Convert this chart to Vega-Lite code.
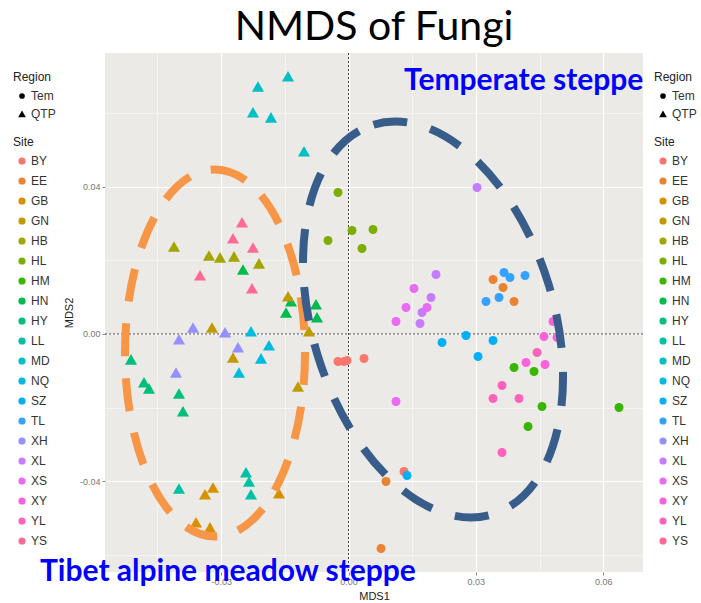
{
  "$schema": "https://vega.github.io/schema/vega-lite/v6.json",
  "width": 538,
  "height": 519,
  "autosize": {"type": "none"},
  "padding": {"left": 105, "top": 53, "right": 58, "bottom": 31},
  "background": "white",
  "title": {"text": "NMDS of Fungi", "font": "Lato", "fontSize": 41, "fontWeight": "normal", "color": "#000000", "anchor": "middle", "frame": "group", "offset": 4},
  "config": {
    "view": {"fill": "#EBEAE7", "stroke": null},
    "axis": {
      "domain": false,
      "labelFont": "Liberation Sans", "labelFontSize": 9, "labelColor": "#777777",
      "titleFont": "Liberation Sans", "titleFontSize": 11, "titleFontWeight": "normal", "titleColor": "#222222",
      "tickColor": "#888888", "tickSize": 3, "gridColor": "#FFFFFF"
    },
    "legend": {
      "padding": 0,
      "titleFont": "Liberation Sans", "titleFontSize": 12, "titleFontWeight": "normal", "titleColor": "#222222",
      "labelFont": "Liberation Sans", "labelFontSize": 12, "labelColor": "#333333",
      "symbolOpacity": 1, "symbolStrokeWidth": 0
    }
  },
  "datasets": {
    "pts": [
      {"Site": "MD", "Region": "QTP", "x": -0.01425, "y": 0.06988},
      {"Site": "MD", "Region": "QTP", "x": -0.02132, "y": 0.06716},
      {"Site": "MD", "Region": "QTP", "x": -0.02250, "y": 0.06011},
      {"Site": "MD", "Region": "QTP", "x": -0.01826, "y": 0.05875},
      {"Site": "MD", "Region": "QTP", "x": -0.01048, "y": 0.04953},
      {"Site": "YS", "Region": "QTP", "x": -0.02509, "y": 0.03026},
      {"Site": "YS", "Region": "QTP", "x": -0.02721, "y": 0.02592},
      {"Site": "YS", "Region": "QTP", "x": -0.02250, "y": 0.02347},
      {"Site": "YS", "Region": "QTP", "x": -0.03498, "y": 0.01588},
      {"Site": "YS", "Region": "QTP", "x": -0.02273, "y": 0.01235},
      {"Site": "HB", "Region": "QTP", "x": -0.04111, "y": 0.02374},
      {"Site": "HB", "Region": "QTP", "x": -0.03286, "y": 0.02130},
      {"Site": "HB", "Region": "QTP", "x": -0.03027, "y": 0.02076},
      {"Site": "HB", "Region": "QTP", "x": -0.02697, "y": 0.02103},
      {"Site": "HB", "Region": "QTP", "x": -0.02108, "y": 0.01913},
      {"Site": "HN", "Region": "QTP", "x": -0.02485, "y": 0.01750},
      {"Site": "HN", "Region": "QTP", "x": -0.01355, "y": 0.00882},
      {"Site": "HN", "Region": "QTP", "x": -0.01472, "y": 0.00583},
      {"Site": "HN", "Region": "QTP", "x": -0.00766, "y": 0.00801},
      {"Site": "HN", "Region": "QTP", "x": -0.00742, "y": 0.00448},
      {"Site": "GN", "Region": "QTP", "x": -0.01425, "y": 0.01018},
      {"Site": "GN", "Region": "QTP", "x": -0.00931, "y": 0.00068},
      {"Site": "GN", "Region": "QTP", "x": -0.03216, "y": 0.00176},
      {"Site": "GN", "Region": "QTP", "x": -0.02721, "y": -0.00638},
      {"Site": "GN", "Region": "QTP", "x": -0.01190, "y": -0.01425},
      {"Site": "XH", "Region": "QTP", "x": -0.03663, "y": 0.00176},
      {"Site": "XH", "Region": "QTP", "x": -0.03993, "y": -0.00149},
      {"Site": "XH", "Region": "QTP", "x": -0.02909, "y": 0.00041},
      {"Site": "XH", "Region": "QTP", "x": -0.02603, "y": -0.00366},
      {"Site": "XH", "Region": "QTP", "x": -0.04064, "y": -0.01045},
      {"Site": "NQ", "Region": "QTP", "x": -0.02297, "y": 0.00068},
      {"Site": "NQ", "Region": "QTP", "x": -0.01873, "y": -0.00312},
      {"Site": "NQ", "Region": "QTP", "x": -0.02061, "y": -0.00665},
      {"Site": "NQ", "Region": "QTP", "x": -0.02580, "y": -0.01045},
      {"Site": "HY", "Region": "QTP", "x": -0.05124, "y": -0.00692},
      {"Site": "HY", "Region": "QTP", "x": -0.04817, "y": -0.01316},
      {"Site": "HY", "Region": "QTP", "x": -0.04700, "y": -0.01479},
      {"Site": "HY", "Region": "QTP", "x": -0.03993, "y": -0.01615},
      {"Site": "HY", "Region": "QTP", "x": -0.03899, "y": -0.02103},
      {"Site": "LL", "Region": "QTP", "x": -0.02415, "y": -0.03758},
      {"Site": "LL", "Region": "QTP", "x": -0.02344, "y": -0.04003},
      {"Site": "LL", "Region": "QTP", "x": -0.02297, "y": -0.04355},
      {"Site": "LL", "Region": "QTP", "x": -0.03993, "y": -0.04193},
      {"Site": "GB", "Region": "QTP", "x": -0.03192, "y": -0.04166},
      {"Site": "GB", "Region": "QTP", "x": -0.03380, "y": -0.04355},
      {"Site": "GB", "Region": "QTP", "x": -0.03592, "y": -0.05115},
      {"Site": "GB", "Region": "QTP", "x": -0.03263, "y": -0.05251},
      {"Site": "GB", "Region": "QTP", "x": -0.01637, "y": -0.04328},
      {"Site": "HL", "Region": "Tem", "x": -0.00247, "y": 0.03840},
      {"Site": "HL", "Region": "Tem", "x": -0.00483, "y": 0.02537},
      {"Site": "HL", "Region": "Tem", "x": 0.00082, "y": 0.02809},
      {"Site": "HL", "Region": "Tem", "x": 0.00577, "y": 0.02836},
      {"Site": "HL", "Region": "Tem", "x": 0.00318, "y": 0.02320},
      {"Site": "BY", "Region": "Tem", "x": -0.00247, "y": -0.00746},
      {"Site": "BY", "Region": "Tem", "x": -0.00106, "y": -0.00746},
      {"Site": "BY", "Region": "Tem", "x": -0.00035, "y": -0.00719},
      {"Site": "BY", "Region": "Tem", "x": 0.00365, "y": -0.00665},
      {"Site": "BY", "Region": "Tem", "x": 0.01307, "y": -0.03731},
      {"Site": "EE", "Region": "Tem", "x": 0.03404, "y": 0.01479},
      {"Site": "EE", "Region": "Tem", "x": 0.03640, "y": 0.01262},
      {"Site": "EE", "Region": "Tem", "x": 0.03899, "y": 0.00882},
      {"Site": "EE", "Region": "Tem", "x": 0.00883, "y": -0.04003},
      {"Site": "EE", "Region": "Tem", "x": 0.00766, "y": -0.05821},
      {"Site": "HM", "Region": "Tem", "x": 0.03899, "y": -0.00909},
      {"Site": "HM", "Region": "Tem", "x": 0.04370, "y": -0.01018},
      {"Site": "HM", "Region": "Tem", "x": 0.04558, "y": -0.01967},
      {"Site": "HM", "Region": "Tem", "x": 0.06372, "y": -0.01995},
      {"Site": "HM", "Region": "Tem", "x": 0.04229, "y": -0.02510},
      {"Site": "TL", "Region": "Tem", "x": 0.03663, "y": 0.01669},
      {"Site": "TL", "Region": "Tem", "x": 0.03804, "y": 0.01533},
      {"Site": "TL", "Region": "Tem", "x": 0.04158, "y": 0.01588},
      {"Site": "TL", "Region": "Tem", "x": 0.03239, "y": 0.00882},
      {"Site": "TL", "Region": "Tem", "x": 0.03545, "y": 0.00990},
      {"Site": "SZ", "Region": "Tem", "x": 0.02203, "y": -0.00231},
      {"Site": "SZ", "Region": "Tem", "x": 0.02768, "y": -0.00041},
      {"Site": "SZ", "Region": "Tem", "x": 0.03404, "y": -0.00176},
      {"Site": "SZ", "Region": "Tem", "x": 0.03051, "y": -0.00611},
      {"Site": "SZ", "Region": "Tem", "x": 0.01378, "y": -0.03840},
      {"Site": "XL", "Region": "Tem", "x": 0.03027, "y": 0.03976},
      {"Site": "XL", "Region": "Tem", "x": 0.02061, "y": 0.01615},
      {"Site": "XL", "Region": "Tem", "x": 0.01943, "y": 0.00990},
      {"Site": "XL", "Region": "Tem", "x": 0.01731, "y": 0.00583},
      {"Site": "XL", "Region": "Tem", "x": 0.01684, "y": 0.00285},
      {"Site": "XS", "Region": "Tem", "x": 0.01543, "y": 0.01235},
      {"Site": "XS", "Region": "Tem", "x": 0.01355, "y": 0.00719},
      {"Site": "XS", "Region": "Tem", "x": 0.01849, "y": 0.00719},
      {"Site": "XS", "Region": "Tem", "x": 0.01119, "y": 0.00339},
      {"Site": "XS", "Region": "Tem", "x": 0.01119, "y": -0.01832},
      {"Site": "XY", "Region": "Tem", "x": 0.04817, "y": 0.00339},
      {"Site": "XY", "Region": "Tem", "x": 0.04605, "y": -0.00068},
      {"Site": "XY", "Region": "Tem", "x": 0.04912, "y": -0.00095},
      {"Site": "XY", "Region": "Tem", "x": 0.04181, "y": -0.00773},
      {"Site": "XY", "Region": "Tem", "x": 0.04629, "y": -0.00828},
      {"Site": "YL", "Region": "Tem", "x": 0.04441, "y": -0.00502},
      {"Site": "YL", "Region": "Tem", "x": 0.03616, "y": -0.01398},
      {"Site": "YL", "Region": "Tem", "x": 0.03404, "y": -0.01750},
      {"Site": "YL", "Region": "Tem", "x": 0.04016, "y": -0.01750},
      {"Site": "YL", "Region": "Tem", "x": 0.03616, "y": -0.03216}
    ],
    "zero": [{"x": 0, "y": 0}],
    "ellQTP": [{"x": -0.03145, "y": -0.00516}],
    "ellTem": [{"x": 0.01991, "y": 0.00393}],
    "notes": [
      {"x": 0.01307, "y": 0.06608, "label": "Temperate steppe"},
      {"x": -0.07267, "y": -0.06716, "label": "Tibet alpine meadow steppe"}
    ]
  },
  "layer": [
    {
      "data": {"name": "zero"},
      "mark": {"type": "rule", "color": "#333333", "strokeWidth": 0.9, "strokeDash": [2, 2]},
      "encoding": {"x": {"field": "x", "type": "quantitative", "title": "MDS1"}}
    },
    {
      "data": {"name": "zero"},
      "mark": {"type": "rule", "color": "#333333", "strokeWidth": 0.9, "strokeDash": [2, 2]},
      "encoding": {"y": {"field": "y", "type": "quantitative", "title": "MDS2"}}
    },
    {
      "data": {"name": "pts"},
      "mark": {"type": "point", "filled": true, "opacity": 1, "strokeWidth": 0, "size": 80},
      "encoding": {
        "x": {"field": "x", "type": "quantitative", "title": "MDS1",
          "scale": {"domain": [-0.05736, 0.06937], "nice": false, "zero": false},
          "axis": {"values": [-0.045, -0.03, -0.015, 0, 0.015, 0.03, 0.045, 0.06], "grid": true,
            "labelExpr": "abs(round(datum.value*1000)) % 30 == 0 ? (datum.value < 0 ? '-' : '') + format(abs(datum.value), '.2f') : ''",
            "gridWidth": {"condition": {"test": "abs(round(datum.value*1000)) % 30 == 0", "value": 1.1}, "value": 0.5},
            "tickOpacity": {"condition": {"test": "abs(round(datum.value*1000)) % 30 == 0", "value": 1}, "value": 0},
            "labelPadding": 2, "titlePadding": 4}},
        "y": {"field": "y", "type": "quantitative", "title": "MDS2",
          "scale": {"domain": [-0.06459, 0.07625], "nice": false, "zero": false},
          "axis": {"values": [-0.06, -0.04, -0.02, 0, 0.02, 0.04, 0.06], "grid": true,
            "labelExpr": "abs(round(datum.value*1000)) % 40 == 0 ? (datum.value < 0 ? '-' : '') + format(abs(datum.value), '.2f') : ''",
            "gridWidth": {"condition": {"test": "abs(round(datum.value*1000)) % 40 == 0", "value": 1.1}, "value": 0.5},
            "tickOpacity": {"condition": {"test": "abs(round(datum.value*1000)) % 40 == 0", "value": 1}, "value": 0},
            "labelPadding": 2, "titlePadding": 5}},
        "color": {"field": "Site", "type": "nominal",
          "scale": {"domain": ["BY","EE","GB","GN","HB","HL","HM","HN","HY","LL","MD","NQ","SZ","TL","XH","XL","XS","XY","YL","YS"],
            "range": ["#F8766D","#EA8331","#D89000","#C09B00","#A3A500","#7CAE00","#39B600","#00BB4E","#00BF7D","#00C1A3","#00BFC4","#00BAE0","#00B0F6","#35A2FF","#9590FF","#C77CFF","#E76BF3","#FA62DB","#FF62BC","#FF6A98"]},
          "legend": {"title": "Site", "orient": "none", "legendX": 549, "legendY": 84, "symbolType": "circle", "symbolSize": 52, "symbolOffset": 3, "labelOffset": 3, "rowPadding": 8, "titlePadding": 6}},
        "shape": {"field": "Region", "type": "nominal",
          "scale": {"domain": ["Tem", "QTP"], "range": ["circle", "M 0 -1.2 L 1.35 1.15 L -1.35 1.15 Z"]},
          "legend": {"title": "Region", "orient": "none", "legendX": 549, "legendY": 19, "symbolSize": 32, "symbolFillColor": "#000000", "symbolStrokeColor": "#000000", "symbolOffset": 3, "labelOffset": 3, "rowPadding": 6, "titlePadding": 6}}
      }
    },
    {
      "data": {"name": "pts"},
      "mark": {"type": "point", "filled": true, "opacity": 0, "strokeWidth": 0, "size": 80},
      "encoding": {
        "x": {"field": "x", "type": "quantitative", "title": "MDS1"},
        "y": {"field": "y", "type": "quantitative", "title": "MDS2"},
        "color": {"field": "Site", "type": "nominal",
          "scale": {"domain": ["BY","EE","GB","GN","HB","HL","HM","HN","HY","LL","MD","NQ","SZ","TL","XH","XL","XS","XY","YL","YS"],
            "range": ["#F8766D","#EA8331","#D89000","#C09B00","#A3A500","#7CAE00","#39B600","#00BB4E","#00BF7D","#00C1A3","#00BFC4","#00BAE0","#00B0F6","#35A2FF","#9590FF","#C77CFF","#E76BF3","#FA62DB","#FF62BC","#FF6A98"]},
          "legend": {"title": "Site", "orient": "none", "legendX": -92, "legendY": 84, "symbolType": "circle", "symbolSize": 52, "symbolOffset": 3, "labelOffset": 3, "rowPadding": 8, "titlePadding": 6, "symbolOpacity": 1}},
        "shape": {"field": "Region", "type": "nominal",
          "scale": {"domain": ["Tem", "QTP"], "range": ["circle", "M 0 -1.2 L 1.35 1.15 L -1.35 1.15 Z"]},
          "legend": {"title": "Region", "orient": "none", "legendX": -92, "legendY": 19, "symbolSize": 32, "symbolFillColor": "#000000", "symbolStrokeColor": "#000000", "symbolOffset": 3, "labelOffset": 3, "rowPadding": 6, "titlePadding": 6, "symbolOpacity": 1}}
      }
    },
    {
      "data": {"name": "ellQTP"},
      "mark": {"type": "point", "filled": false, "fill": "transparent", "opacity": 1,
        "shape": "M 0 -2.039 C 0.5523 -2.039 1 -1.1261 1 0 C 1 1.1261 0.5523 2.039 0 2.039 C -0.5523 2.039 -1 1.1261 -1 0 C -1 -1.1261 -0.5523 -2.039 0 -2.039 Z",
        "size": 32400, "stroke": "#F79646", "strokeWidth": 8, "strokeDash": [33, 22]},
      "encoding": {
        "x": {"field": "x", "type": "quantitative", "title": "MDS1"},
        "y": {"field": "y", "type": "quantitative", "title": "MDS2"}
      }
    },
    {
      "data": {"name": "ellTem"},
      "mark": {"type": "point", "filled": false, "fill": "transparent", "opacity": 1, "angle": -17,
        "shape": "M 0 -1.686 C 0.5523 -1.686 1 -0.9312 1 0 C 1 0.9312 0.5523 1.686 0 1.686 C -0.5523 1.686 -1 0.9312 -1 0 C -1 -0.9312 -0.5523 -1.686 0 -1.686 Z",
        "size": 58371, "stroke": "#385D8A", "strokeWidth": 8, "strokeDash": [34, 24]},
      "encoding": {
        "x": {"field": "x", "type": "quantitative", "title": "MDS1"},
        "y": {"field": "y", "type": "quantitative", "title": "MDS2"}
      }
    },
    {
      "data": {"name": "notes"},
      "mark": {"type": "text", "align": "left", "baseline": "alphabetic", "font": "Lato", "fontWeight": "bold", "fontSize": 30, "color": "#0000FF", "clip": false},
      "encoding": {
        "x": {"field": "x", "type": "quantitative", "title": "MDS1"},
        "y": {"field": "y", "type": "quantitative", "title": "MDS2"},
        "text": {"field": "label", "type": "nominal"}
      }
    }
  ],
  "resolve": {"scale": {"color": "independent", "shape": "independent"}}
}
